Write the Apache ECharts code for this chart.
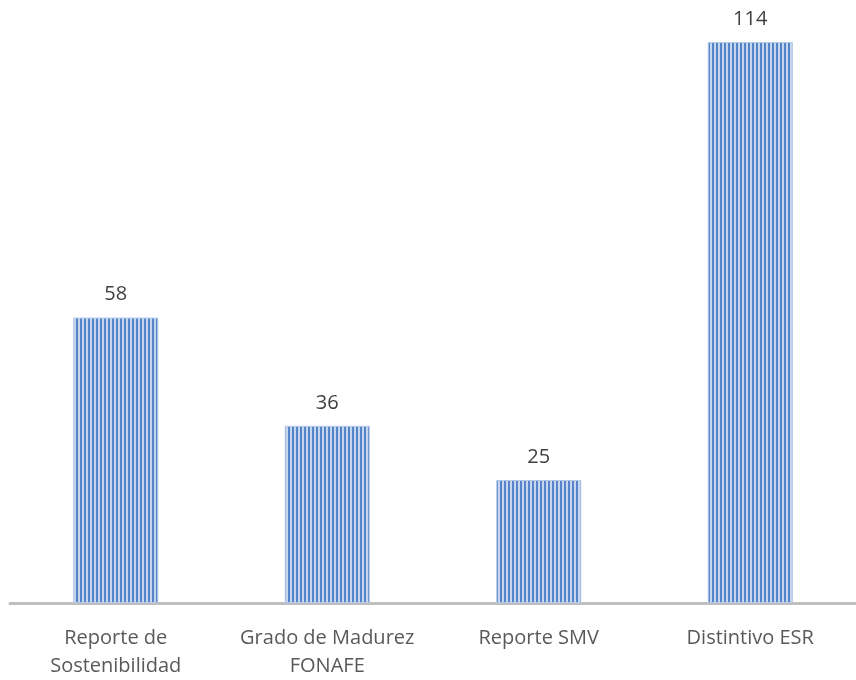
<!DOCTYPE html>
<html>
<head>
<meta charset="utf-8">
<script src="https://cdn.jsdelivr.net/npm/echarts@6/dist/echarts.min.js"></script>
<style>
  html, body { margin: 0; padding: 0; background: #fff; }
  #chart { width: 856px; height: 680px; }
</style>
</head>
<body>
<div id="chart"></div>
<script>
const categories = ['Reporte de\nSostenibilidad', 'Grado de Madurez\nFONAFE', 'Reporte SMV', 'Distintivo ESR'];
const values = [58, 36, 25, 114];

// vertical stripe fill like the original
const stripe = document.createElement('canvas');
stripe.width = 4;
stripe.height = 4;
const ctx = stripe.getContext('2d');
ctx.fillStyle = '#c6d6ee';
ctx.fillRect(0, 0, 4, 4);
ctx.fillStyle = '#5585c8';
ctx.fillRect(0, 0, 2, 4);

const chart = echarts.init(document.getElementById('chart'));
chart.setOption({
    animation: false,
    grid: { left: 10, right: 0, top: 42, bottom: 77 },
    xAxis: {
        type: 'category',
        data: categories,
        axisLine: { lineStyle: { color: '#bfbfbf', width: 3 } },
        axisTick: { show: false },
        axisLabel: {
            interval: 0,
            margin: 21,
            color: '#595959',
            fontSize: 20,
            lineHeight: 28,
            fontFamily: 'Open Sans'
        }
    },
    yAxis: { type: 'value', min: 0, max: 114, show: false },
    series: [{
        type: 'bar',
        data: values,
        barWidth: 85,
        itemStyle: {
            color: { image: stripe, repeat: 'repeat' },
            borderColor: '#b4c8e8',
            borderWidth: 1
        },
        label: {
            show: true,
            position: 'top',
            distance: 13,
            color: '#404040',
            fontSize: 20,
            fontFamily: 'Open Sans'
        }
    }]
});
</script>
</body>
</html>
